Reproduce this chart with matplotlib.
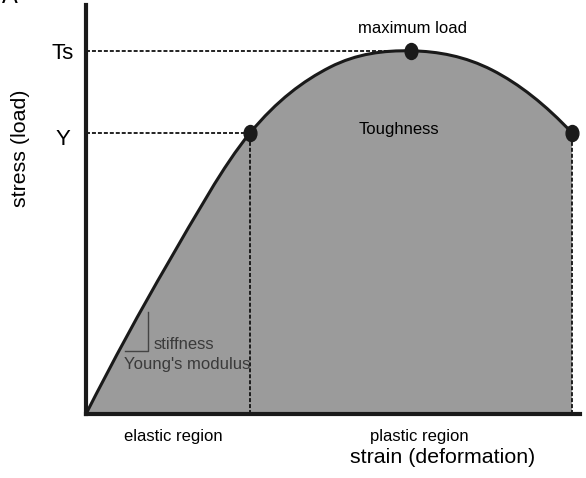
import numpy as np
import matplotlib
matplotlib.use("Agg")
from matplotlib import pyplot as plt
from matplotlib.path import Path
from matplotlib.patches import PathPatch
from matplotlib.transforms import Affine2D

plt.rcParams['font.family'] = ['Liberation Sans', 'DejaVu Sans']

# stress-strain curve (strain, stress), both 0..100
strain = [0, 16.6, 33.2, 49.4, 65.8, 82.2, 98.4]
stress = [0, 36.9, 68.7, 84.8, 88.8, 84.1, 68.7]

yield_pt = (33.2, 68.7)
max_pt = (65.8, 88.8)
end_pt = (98.4, 68.7)

level_labels = ['Ts', 'Y']
region_labels = ['elastic region', 'plastic region']


def smooth_path(xs, ys):
    # Catmull-Rom through the read points, drawn as cubic Bezier pieces;
    # end tangents taken so the ends keep bending like a parabola
    pts = np.column_stack([xs, ys])
    t1 = (pts[2] - pts[0]) / 2
    t0 = 2 * (pts[1] - pts[0]) - t1
    tm = (pts[-1] - pts[-3]) / 2
    tn = 2 * (pts[-1] - pts[-2]) - tm
    ext = np.vstack([pts[1] - 2 * t0, pts, pts[-2] + 2 * tn])
    verts = [pts[0]]
    codes = [Path.MOVETO]
    for i in range(len(pts) - 1):
        p0, p1, p2, p3 = ext[i], ext[i + 1], ext[i + 2], ext[i + 3]
        verts += [p1 + (p2 - p0) / 6, p2 - (p3 - p1) / 6, p2]
        codes += [Path.CURVE4] * 3
    return verts, codes


W, H = 586, 478
fig = plt.figure(figsize=(W / 100, H / 100), dpi=100)
ax = fig.add_axes([86 / W, (H - 414) / H, (580 - 86) / W, (414 - 5) / H])
ax.set_xlim(0, 100)
ax.set_ylim(0, 100)

for s in ['top', 'right']:
    ax.spines[s].set_visible(False)
for s in ['left', 'bottom']:
    ax.spines[s].set_linewidth(3)
    ax.spines[s].set_color('#1a1a1a')
    ax.spines[s].set_zorder(5)
ax.set_xticks([])
ax.set_yticks([])

verts, codes = smooth_path(strain, stress)
area = Path(verts + [(strain[-1], 0), (strain[0], 0), (strain[0], 0)],
            codes + [Path.LINETO, Path.LINETO, Path.CLOSEPOLY])
ax.add_patch(PathPatch(area, facecolor='#9b9b9b', lw=0, zorder=1))
ax.add_patch(PathPatch(Path(verts, codes), fill=False, edgecolor='#1a1a1a',
                       lw=2.2, zorder=3))

dash = (0, (2.2, 1.1))
ax.plot([0, max_pt[0]], [max_pt[1]] * 2, color='#111111', lw=1.3, ls=dash)
ax.plot([0, yield_pt[0]], [yield_pt[1]] * 2, color='#111111', lw=1.3, ls=dash)
ax.plot([yield_pt[0]] * 2, [0, yield_pt[1]], color='#111111', lw=1.3, ls=dash)
ax.plot([end_pt[0]] * 2, [0, end_pt[1]], color='#111111', lw=1.3, ls=dash)

# slightly tall oval dots
oval = Path.unit_circle().transformed(Affine2D().scale(0.8, 1.0))
px, py = zip(yield_pt, max_pt, end_pt)
ax.plot(px, py, ls='none', marker=oval, ms=11.5, color='#1a1a1a', zorder=4)

# stiffness triangle
ax.plot([7.9, 12.6, 12.6], [15.4, 15.4, 24.9], color='#444444', lw=1.0)
ax.text(13.6, 15.8, 'stiffness', fontsize=12, color='#3a3a3a')
ax.text(7.6, 11.0, "Young's modulus", fontsize=12, color='#3a3a3a')

ax.text(-4.7, 86.8, level_labels[0], fontsize=16, ha='center', va='baseline',
        clip_on=False)
ax.text(-4.7, 65.8, level_labels[1], fontsize=16, ha='center', va='baseline',
        clip_on=False)

ax.text(66.0, 93.1, 'maximum load', fontsize=12, ha='center', va='baseline',
        clip_on=False)
ax.text(63.4, 68.4, 'Toughness', fontsize=12, ha='center', va='baseline')

ax.text(17.7, -6.5, region_labels[0], fontsize=12, ha='center', va='baseline',
        clip_on=False)
ax.text(67.5, -6.5, region_labels[1], fontsize=12, ha='center', va='baseline',
        clip_on=False)
ax.text(72.2, -12.1, 'strain (deformation)', fontsize=15.4, ha='center',
        va='baseline', clip_on=False)
ax.text(-13.2, 64.9, 'stress (load)', fontsize=15.4, rotation=90, ha='center',
        va='center', clip_on=False)

# letter cut off at the top-left corner of the original
fig.text(2 / W, 1 - 3 / H, 'A', fontsize=17, va='baseline')

fig.savefig('out.png', dpi=100)
